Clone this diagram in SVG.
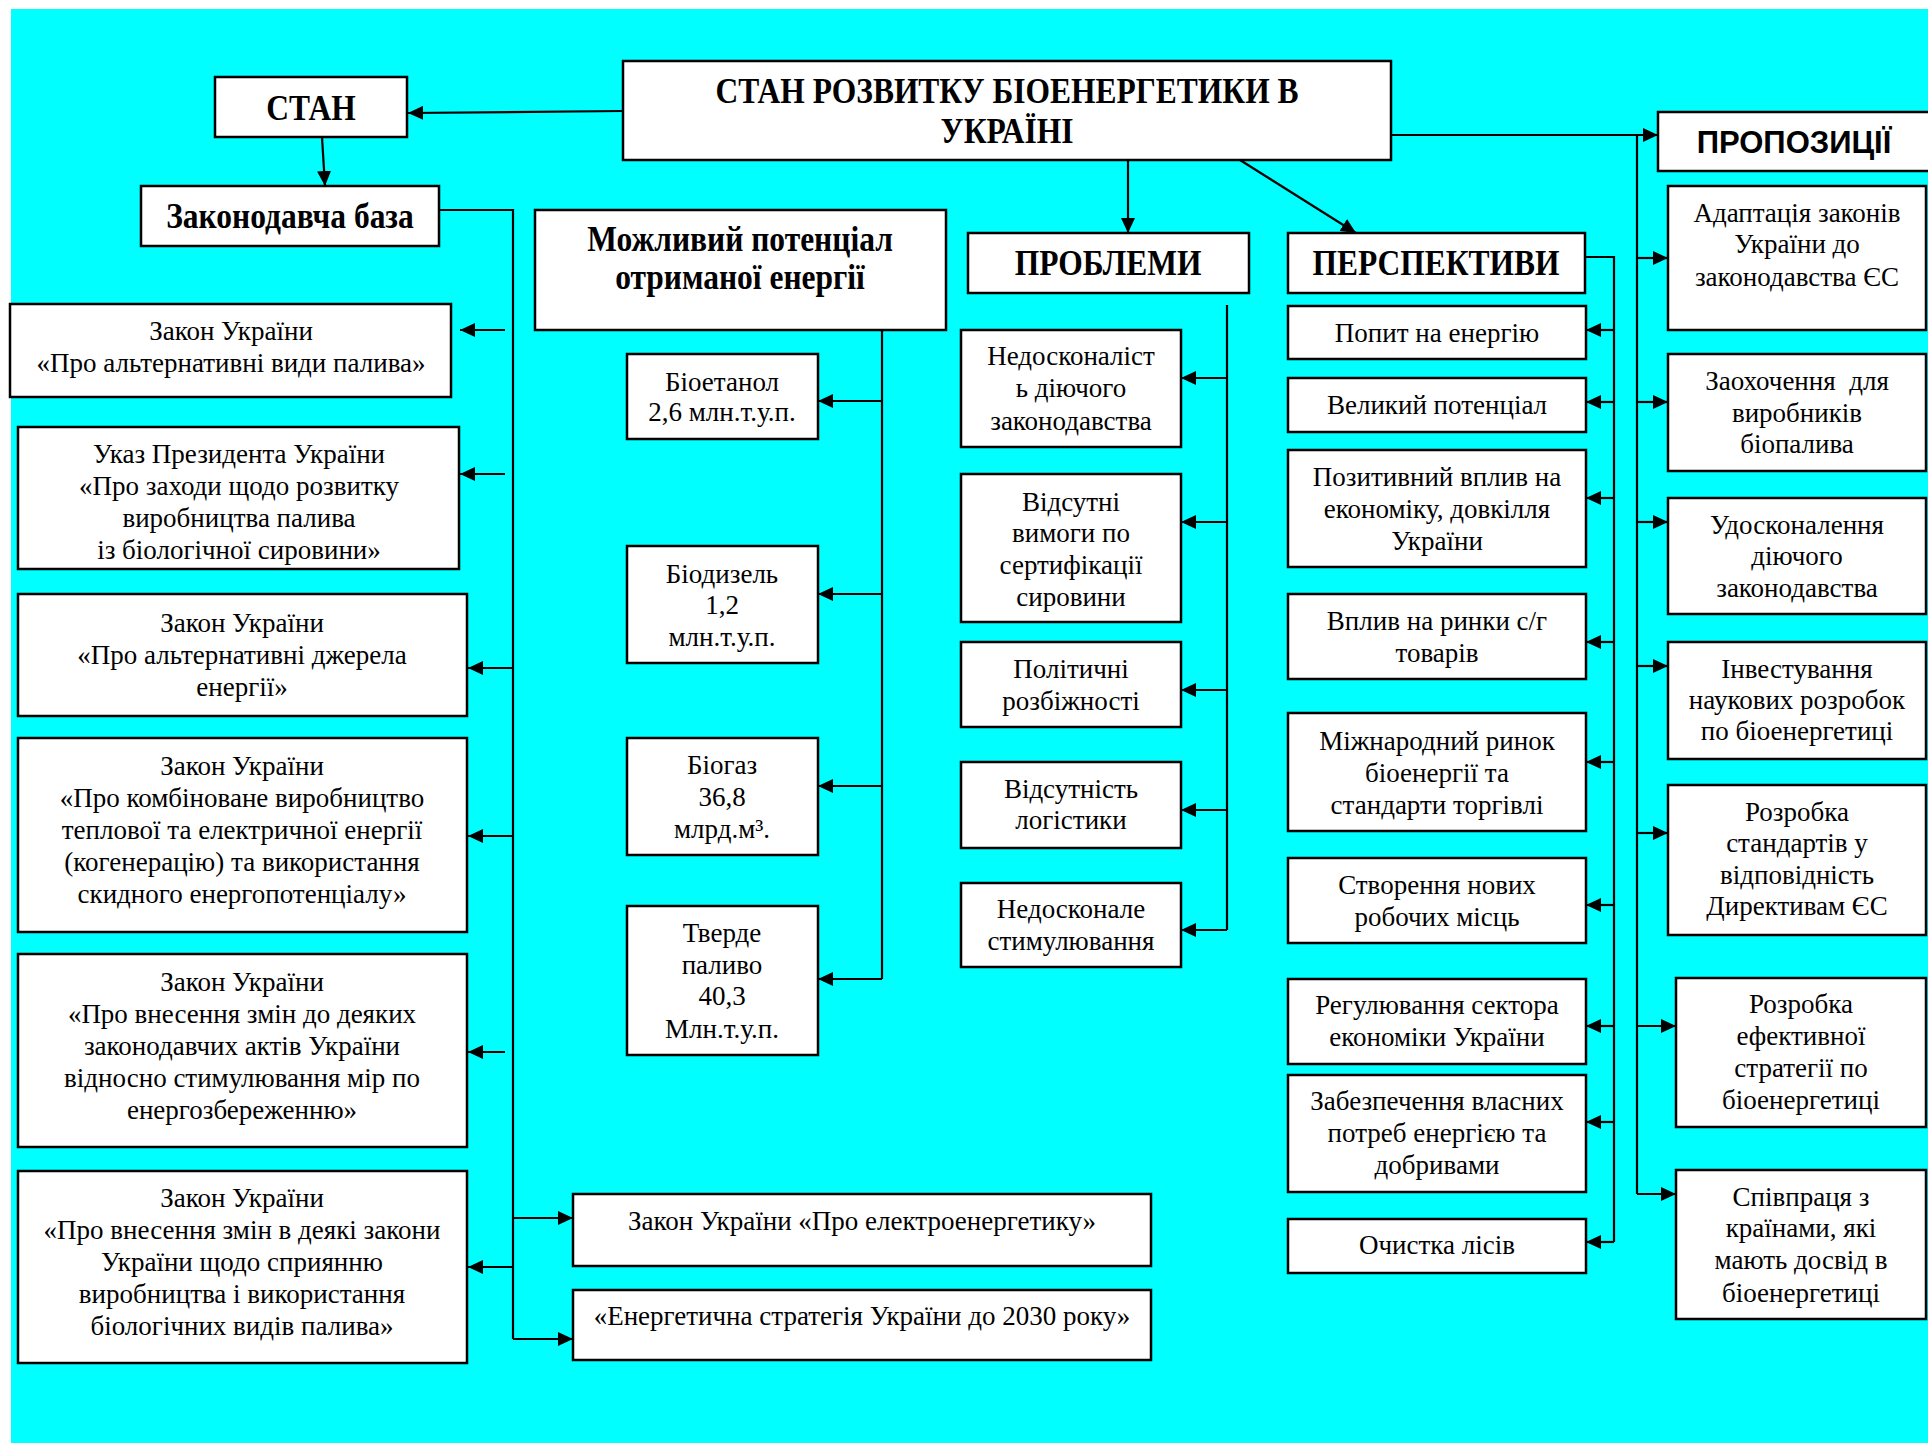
<svg xmlns="http://www.w3.org/2000/svg" width="1928" height="1443" viewBox="0 0 1928 1443">
<defs>
<style>
.box{fill:#fff;stroke:#000;stroke-width:2.5}
.t{font-family:"Liberation Serif","Times New Roman",serif;font-size:27px;text-anchor:middle;fill:#000}
.h{font-family:"Liberation Serif","Times New Roman",serif;font-size:35px;font-weight:bold;text-anchor:middle;fill:#000}
.hs{font-family:"Liberation Sans",Arial,sans-serif;font-size:31px;font-weight:bold;text-anchor:middle;fill:#000}
.c{stroke:#000;stroke-width:2.2;fill:none}
.a{marker-end:url(#ah)}
</style>
<marker id="ah" markerUnits="userSpaceOnUse" markerWidth="15" markerHeight="14" refX="15" refY="7" orient="auto">
<path d="M0,0 L15,7 L0,14 Z" fill="#000"/>
</marker>
</defs>
<rect x="0" y="0" width="1928" height="1443" fill="#fff"/>
<rect x="11" y="9" width="1917" height="1434" fill="#00FFFF"/>

<g id="connectors">
<path class="c a" d="M623,111 L408,113"/>
<path class="c a" d="M322,137 L325,186"/>
<path class="c" d="M439,210 L513,210 L513,1339"/>
<path class="c a" d="M505,330 L460,330"/>
<path class="c a" d="M505,474 L460,474"/>
<path class="c a" d="M513,668 L468,668"/>
<path class="c a" d="M513,836 L468,836"/>
<path class="c a" d="M505,1052 L468,1052"/>
<path class="c a" d="M513,1267 L468,1267"/>
<path class="c a" d="M513,1218 L573,1218"/>
<path class="c a" d="M513,1339 L573,1339"/>
<path class="c" d="M882,330 L882,979"/>
<path class="c a" d="M882,401 L818,401"/>
<path class="c a" d="M882,594 L818,594"/>
<path class="c a" d="M882,786 L818,786"/>
<path class="c a" d="M882,979 L818,979"/>
<path class="c a" d="M1128,160 L1128,233"/>
<path class="c" d="M1227,305 L1227,930"/>
<path class="c a" d="M1227,378 L1181,378"/>
<path class="c a" d="M1227,522 L1181,522"/>
<path class="c a" d="M1227,690 L1181,690"/>
<path class="c a" d="M1227,810 L1181,810"/>
<path class="c a" d="M1227,930 L1181,930"/>
<path class="c a" d="M1240,160 L1356,233"/>
<path class="c" d="M1585,257 L1614,257 L1614,1242"/>
<path class="c a" d="M1614,330 L1586,330"/>
<path class="c a" d="M1614,402 L1586,402"/>
<path class="c a" d="M1614,498 L1586,498"/>
<path class="c a" d="M1614,642 L1586,642"/>
<path class="c a" d="M1614,762 L1586,762"/>
<path class="c a" d="M1614,905 L1586,905"/>
<path class="c a" d="M1614,1026 L1586,1026"/>
<path class="c a" d="M1614,1122 L1586,1122"/>
<path class="c a" d="M1614,1242 L1586,1242"/>
<path class="c a" d="M1391,135 L1658,135"/>
<path class="c" d="M1637,135 L1637,1194"/>
<path class="c a" d="M1637,258 L1668,258"/>
<path class="c a" d="M1637,402 L1668,402"/>
<path class="c a" d="M1637,522 L1668,522"/>
<path class="c a" d="M1637,666 L1668,666"/>
<path class="c a" d="M1637,833 L1668,833"/>
<path class="c a" d="M1637,1026 L1676,1026"/>
<path class="c a" d="M1637,1194 L1676,1194"/>
</g>

<g id="title"><rect class="box" x="623" y="61" width="768" height="99"/>
<text class="h" transform="translate(1007,103) scale(0.9,1)">СТАН РОЗВИТКУ БІОЕНЕРГЕТИКИ В</text>
<text class="h" transform="translate(1007,143) scale(0.9,1)">УКРАЇНІ</text></g>

<g id="stan"><rect class="box" x="215" y="77" width="192" height="60"/>
<text class="h" transform="translate(311,120) scale(0.9,1)">СТАН</text></g>

<g id="zakonodavcha"><rect class="box" x="141" y="186" width="298" height="60"/>
<text class="h" transform="translate(290,228) scale(0.9,1)">Законодавча база</text></g>

<g id="l1"><rect class="box" x="10" y="304" width="441" height="93"/>
<text class="t" x="231" y="340">Закон України</text>
<text class="t" x="231" y="372">«Про альтернативні види палива»</text></g>

<g id="l2"><rect class="box" x="18" y="427" width="441" height="142"/>
<text class="t" x="239" y="463">Указ Президента України</text>
<text class="t" x="239" y="495">«Про заходи щодо розвитку</text>
<text class="t" x="239" y="527">виробництва палива</text>
<text class="t" x="239" y="559">із біологічної сировини»</text></g>

<g id="l3"><rect class="box" x="18" y="594" width="449" height="122"/>
<text class="t" x="242" y="632">Закон України</text>
<text class="t" x="242" y="664">«Про альтернативні джерела</text>
<text class="t" x="242" y="696">енергії»</text></g>

<g id="l4"><rect class="box" x="18" y="738" width="449" height="194"/>
<text class="t" x="242" y="775">Закон України</text>
<text class="t" x="242" y="807">«Про комбіноване виробництво</text>
<text class="t" x="242" y="839">теплової та електричної енергії</text>
<text class="t" x="242" y="871">(когенерацію) та використання</text>
<text class="t" x="242" y="903">скидного енергопотенціалу»</text></g>

<g id="l5"><rect class="box" x="18" y="954" width="449" height="193"/>
<text class="t" x="242" y="991">Закон України</text>
<text class="t" x="242" y="1023">«Про внесення змін до деяких</text>
<text class="t" x="242" y="1055">законодавчих актів України</text>
<text class="t" x="242" y="1087">відносно стимулювання мір по</text>
<text class="t" x="242" y="1119">енергозбереженню»</text></g>

<g id="l6"><rect class="box" x="18" y="1171" width="449" height="192"/>
<text class="t" x="242" y="1207">Закон України</text>
<text class="t" x="242" y="1239">«Про внесення змін в деякі закони</text>
<text class="t" x="242" y="1271">України щодо сприянню</text>
<text class="t" x="242" y="1303">виробництва і використання</text>
<text class="t" x="242" y="1335">біологічних видів палива»</text></g>

<g id="b1"><rect class="box" x="573" y="1194" width="578" height="72"/>
<text class="t" x="862" y="1230">Закон України «Про електроенергетику»</text></g>

<g id="b2"><rect class="box" x="573" y="1290" width="578" height="70"/>
<text class="t" x="862" y="1325">«Енергетична стратегія України до 2030 року»</text></g>

<g id="potential"><rect class="box" x="535" y="210" width="411" height="120"/>
<text class="h" transform="translate(740,251) scale(0.9,1)">Можливий потенціал</text>
<text class="h" transform="translate(740,289) scale(0.9,1)">отриманої енергії</text></g>

<g id="bioethanol"><rect class="box" x="627" y="354" width="191" height="85"/>
<text class="t" x="722" y="391">Біоетанол</text>
<text class="t" x="722" y="421">2,6 млн.т.у.п.</text></g>

<g id="biodiesel"><rect class="box" x="627" y="546" width="191" height="117"/>
<text class="t" x="722" y="583">Біодизель</text>
<text class="t" x="722" y="614">1,2</text>
<text class="t" x="722" y="646">млн.т.у.п.</text></g>

<g id="biogas"><rect class="box" x="627" y="738" width="191" height="117"/>
<text class="t" x="722" y="774">Біогаз</text>
<text class="t" x="722" y="806">36,8</text>
<text class="t" x="722" y="838">млрд.м³.</text></g>

<g id="solid"><rect class="box" x="627" y="906" width="191" height="149"/>
<text class="t" x="722" y="942">Тверде</text>
<text class="t" x="722" y="974">паливо</text>
<text class="t" x="722" y="1005">40,3</text>
<text class="t" x="722" y="1038">Млн.т.у.п.</text></g>

<g id="problems"><rect class="box" x="968" y="233" width="281" height="60"/>
<text class="h" transform="translate(1108,275) scale(0.9,1)">ПРОБЛЕМИ</text></g>

<g id="p1"><rect class="box" x="961" y="330" width="220" height="117"/>
<text class="t" x="1071" y="365">Недосконаліст</text>
<text class="t" x="1071" y="397">ь діючого</text>
<text class="t" x="1071" y="430">законодавства</text></g>

<g id="p2"><rect class="box" x="961" y="474" width="220" height="148"/>
<text class="t" x="1071" y="511">Відсутні</text>
<text class="t" x="1071" y="542">вимоги по</text>
<text class="t" x="1071" y="574">сертифікації</text>
<text class="t" x="1071" y="606">сировини</text></g>

<g id="p3"><rect class="box" x="961" y="642" width="220" height="85"/>
<text class="t" x="1071" y="678">Політичні</text>
<text class="t" x="1071" y="710">розбіжності</text></g>

<g id="p4"><rect class="box" x="961" y="762" width="220" height="86"/>
<text class="t" x="1071" y="798">Відсутність</text>
<text class="t" x="1071" y="829">логістики</text></g>

<g id="p5"><rect class="box" x="961" y="883" width="220" height="84"/>
<text class="t" x="1071" y="918">Недосконале</text>
<text class="t" x="1071" y="950">стимулювання</text></g>

<g id="perspectives"><rect class="box" x="1288" y="233" width="297" height="60"/>
<text class="h" transform="translate(1436,275) scale(0.9,1)">ПЕРСПЕКТИВИ</text></g>

<g id="r1"><rect class="box" x="1288" y="306" width="298" height="53"/>
<text class="t" x="1437" y="342">Попит на енергію</text></g>

<g id="r2"><rect class="box" x="1288" y="378" width="298" height="54"/>
<text class="t" x="1437" y="414">Великий потенціал</text></g>

<g id="r3"><rect class="box" x="1288" y="450" width="298" height="117"/>
<text class="t" x="1437" y="486">Позитивний вплив на</text>
<text class="t" x="1437" y="518">економіку, довкілля</text>
<text class="t" x="1437" y="550">України</text></g>

<g id="r4"><rect class="box" x="1288" y="594" width="298" height="85"/>
<text class="t" x="1437" y="630">Вплив на ринки с/г</text>
<text class="t" x="1437" y="662">товарів</text></g>

<g id="r5"><rect class="box" x="1288" y="713" width="298" height="118"/>
<text class="t" x="1437" y="750">Міжнародний ринок</text>
<text class="t" x="1437" y="782">біоенергії та</text>
<text class="t" x="1437" y="814">стандарти торгівлі</text></g>

<g id="r6"><rect class="box" x="1288" y="858" width="298" height="85"/>
<text class="t" x="1437" y="894">Створення нових</text>
<text class="t" x="1437" y="926">робочих місць</text></g>

<g id="r7"><rect class="box" x="1288" y="979" width="298" height="85"/>
<text class="t" x="1437" y="1014">Регулювання сектора</text>
<text class="t" x="1437" y="1046">економіки України</text></g>

<g id="r8"><rect class="box" x="1288" y="1075" width="298" height="117"/>
<text class="t" x="1437" y="1110">Забезпечення власних</text>
<text class="t" x="1437" y="1142">потреб енергією та</text>
<text class="t" x="1437" y="1174">добривами</text></g>

<g id="r9"><rect class="box" x="1288" y="1219" width="298" height="54"/>
<text class="t" x="1437" y="1254">Очистка лісів</text></g>

<g id="proposals"><rect class="box" x="1658" y="112" width="280" height="59"/>
<text class="hs" x="1794" y="153">ПРОПОЗИЦІЇ</text></g>

<g id="s1"><rect class="box" x="1668" y="186" width="258" height="144"/>
<text class="t" x="1797" y="222">Адаптація законів</text>
<text class="t" x="1797" y="253">України до</text>
<text class="t" x="1797" y="286">законодавства ЄС</text></g>

<g id="s2"><rect class="box" x="1668" y="354" width="258" height="117"/>
<text class="t" x="1797" y="390" xml:space="preserve">Заохочення  для</text>
<text class="t" x="1797" y="422">виробників</text>
<text class="t" x="1797" y="453">біопалива</text></g>

<g id="s3"><rect class="box" x="1668" y="498" width="258" height="116"/>
<text class="t" x="1797" y="534">Удосконалення</text>
<text class="t" x="1797" y="565">діючого</text>
<text class="t" x="1797" y="597">законодавства</text></g>

<g id="s4"><rect class="box" x="1668" y="642" width="258" height="117"/>
<text class="t" x="1797" y="678">Інвестування</text>
<text class="t" x="1797" y="709">наукових розробок</text>
<text class="t" x="1797" y="740">по біоенергетиці</text></g>

<g id="s5"><rect class="box" x="1668" y="785" width="258" height="150"/>
<text class="t" x="1797" y="821">Розробка</text>
<text class="t" x="1797" y="852">стандартів у</text>
<text class="t" x="1797" y="884">відповідність</text>
<text class="t" x="1797" y="915">Директивам ЄС</text></g>

<g id="s6"><rect class="box" x="1676" y="978" width="250" height="149"/>
<text class="t" x="1801" y="1013">Розробка</text>
<text class="t" x="1801" y="1045">ефективної</text>
<text class="t" x="1801" y="1077">стратегії по</text>
<text class="t" x="1801" y="1109">біоенергетиці</text></g>

<g id="s7"><rect class="box" x="1676" y="1170" width="250" height="149"/>
<text class="t" x="1801" y="1206">Співпраця з</text>
<text class="t" x="1801" y="1237">країнами, які</text>
<text class="t" x="1801" y="1269">мають досвід в</text>
<text class="t" x="1801" y="1302">біоенергетиці</text></g>
</svg>
